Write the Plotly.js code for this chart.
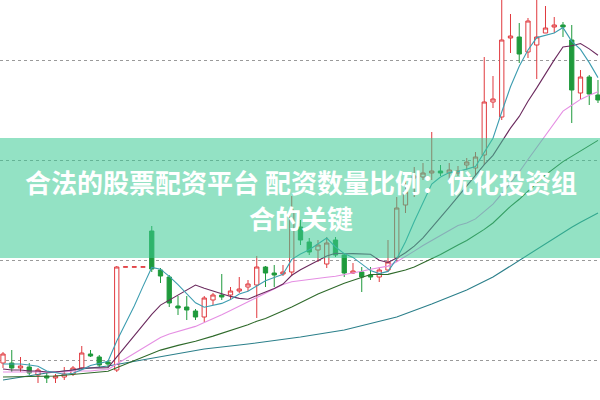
<!DOCTYPE html>
<html>
<head>
<meta charset="utf-8">
<script src="https://cdn.plot.ly/plotly-3.0.1.min.js"></script>
<style>html,body{margin:0;padding:0;background:#fff;}#chart{width:600px;height:400px;}</style>
</head>
<body>
<div id="chart"></div>
<script>
// Daily candles (price units)
const openP  = [3.7,3.7,3.2,3.3,2.5,2.4,2.2,2.3,2.6,3.2,4.6,4.3,3.8,3.0,13.28,13.28,13.28,16.9,13.0,12.3,9.4,9.3,8.9,8.3,10.0,10.5,10.5,10.9,11.3,11.5,13.3,12.7,12.6,12.8,17.3,15.8,15.0,13.6,16.0,14.5,12.7,12.8,12.5,12.3,13.0,14.2,19.5,22.2,22.3,22.7,22.9,22.7,22.7,23.5,23.2,24.5,29.8,28.3,36.2,36.3,34.8,35.5,36.7,37.3,37.5,36.0,30.7,32.3,30.5];
const highP  = [4.8,5.0,4.3,3.7,3.2,2.7,2.6,3.3,3.4,5.4,5.0,4.5,4.0,13.4,13.32,13.32,13.32,17.4,13.2,12.5,10.4,10.4,9.1,10.4,10.7,12.6,11.3,12.3,12.0,14.4,13.4,13.5,13.5,20.4,18.0,16.2,16.0,16.3,16.3,14.7,13.7,13.3,13.3,13.3,16.0,20.3,22.0,23.3,23.7,26.8,23.5,23.7,23.4,24.2,24.8,34.3,32.4,40.5,38.6,37.7,38.2,40.5,39.4,38.3,37.8,37.5,33.0,32.5,32.0];
const lowP   = [3.2,2.8,2.8,2.5,1.7,1.7,1.7,2.0,2.4,3.0,4.3,3.3,3.3,2.8,13.28,13.28,13.28,12.8,11.7,9.3,8.5,8.0,8.0,7.8,9.5,10.0,10.0,10.7,10.9,8.2,11.3,11.3,12.4,12.4,15.5,14.5,13.8,13.2,14.3,12.3,12.6,10.8,12.0,11.8,12.8,13.8,18.7,20.3,22.0,22.0,22.4,22.0,22.4,23.0,22.5,23.5,29.2,28.0,34.7,33.7,34.2,32.1,36.7,36.7,36.3,27.7,30.0,29.5,29.7];
const closeP = [4.6,3.2,3.4,2.7,3.0,2.2,2.4,2.6,3.2,4.7,4.4,3.5,3.6,13.3,13.32,13.32,13.32,13.1,12.4,9.7,9.2,9.0,8.3,10.2,10.5,10.3,10.9,11.1,11.6,13.3,12.7,12.5,12.8,19.0,16.0,14.8,15.5,15.7,14.5,12.7,12.9,12.3,12.3,13.0,13.8,19.2,20.8,22.4,22.7,22.9,22.7,23.0,22.9,23.8,24.3,29.8,30.1,36.0,36.4,34.6,37.9,36.3,37.2,37.5,37.3,31.0,32.3,30.6,30.0];

// Moving-average lines
const ma5  = [3.6,3.6,3.6,3.5,3.38,2.9,2.74,2.58,2.68,3.02,3.46,3.68,3.88,5.9,7.62,9.4,11.36,13.26,13.08,12.36,11.54,10.68,9.72,9.28,9.44,9.66,10.04,10.6,10.88,11.44,11.92,12.24,12.58,14.06,14.6,15.02,15.62,16.2,15.3,14.64,14.26,13.62,12.94,12.64,12.86,14.12,15.82,17.84,19.78,21.6,22.3,22.74,22.84,23.06,23.34,24.76,26.18,28.8,31.32,33.38,35.0,36.24,36.48,36.7,37.24,35.86,35.06,33.74,32.24];
const ma10 = [3.1,3.0,3.0,2.9,2.9,2.8,2.8,2.9,3.0,3.2,3.18,3.21,3.23,4.29,5.32,6.43,7.52,8.57,9.49,9.99,10.47,11.02,11.49,11.18,10.9,10.6,10.36,10.16,10.08,10.44,10.79,11.14,11.59,12.47,13.02,13.47,13.93,14.39,14.68,14.62,14.64,14.62,14.57,13.97,13.75,14.19,14.72,15.39,16.21,17.23,18.21,19.28,20.34,21.42,22.47,23.53,24.46,25.82,27.19,28.36,29.88,31.21,32.64,34.01,35.31,35.43,35.65,35.11,34.47];
const ma20 = [2.8,2.8,2.8,2.8,2.8,2.8,2.8,2.8,2.9,2.9,2.9,3.0,3.05,3.6,4.13,4.67,5.21,5.74,6.24,6.6,6.83,7.12,7.36,7.74,8.11,8.52,8.94,9.37,9.79,10.22,10.63,11.08,11.54,11.83,11.96,12.04,12.15,12.28,12.38,12.53,12.72,12.88,13.08,13.22,13.39,13.83,14.33,14.89,15.45,15.93,16.43,16.95,17.46,17.7,18.11,18.86,19.59,20.61,21.7,22.8,24.05,25.25,26.49,27.72,28.89,29.48,30.06,30.47,30.83];
const ma30Day = [0,6,12,13,14,15,16,17,18,20,22,24,26,28,29,30,33,36,39,42,44,46,47,49,50,52,53,55,56,58,59,61,62,64,65,67,68];
const ma30    = [2.3,2.4,2.87,3.23,3.59,3.95,4.31,4.66,4.99,5.46,5.87,6.39,6.93,7.52,7.88,8.15,9.31,10.6,11.68,12.55,12.56,13.0,13.31,14.1,14.55,15.5,15.95,17.06,17.7,19.36,20.07,21.7,22.52,23.84,24.38,25.44,25.96];
const ma60Day = [0,5,12,17,23,28,34,39,45,49,53,56,59,60,61,62,63,64,65,66,67,68];
const ma60    = [2.0,2.7,3.4,4.2,5.1,5.6,6.3,7.0,8.3,9.6,11.0,12.3,13.97,14.53,15.08,15.64,16.22,16.8,17.27,17.77,18.24,18.69];

const titleLine1 = '合法的股票配资平台 配资数量比例：优化投资组';
const titleLine2 = '合的关键';

const days = openP.map((_, i) => i);

const traces = [
  {
    type: 'candlestick', x: days, open: openP, high: highP, low: lowP, close: closeP,
    increasing: {line: {color: '#e0393e', width: 1}, fillcolor: '#ffffff'},
    decreasing: {line: {color: '#1f9a3c', width: 1}, fillcolor: '#1f9a3c'},
    whiskerwidth: 0, hoverinfo: 'skip'
  },
  {type: 'scatter', mode: 'lines', x: ma60Day, y: ma60, line: {color: '#2b7f8a', width: 1.1}},
  {type: 'scatter', mode: 'lines', x: ma30Day, y: ma30, line: {color: '#2f6a2b', width: 1.1}},
  {type: 'scatter', mode: 'lines', x: days, y: ma20, line: {color: '#e58fe3', width: 1.1}},
  {type: 'scatter', mode: 'lines', x: days, y: ma10, line: {color: '#6b2a5e', width: 1.1}},
  {type: 'scatter', mode: 'lines', x: days, y: ma5,  line: {color: '#3d9db0', width: 1.1}}
];

const layout = {
  width: 600, height: 400,
  margin: {l: 0, r: 0, t: 0, b: 0},
  paper_bgcolor: '#ffffff', plot_bgcolor: '#ffffff',
  showlegend: false,
  xaxis: {range: [-0.343, 68.23], showgrid: false, zeroline: false, showticklabels: false, ticks: '', showline: false, rangeslider: {visible: false}},
  yaxis: {range: [0, 40], tick0: 4, dtick: 10, showgrid: true, gridcolor: '#9a9a9a', griddash: 'dot', gridwidth: 1, zeroline: false, showticklabels: false, ticks: '', showline: false},
  shapes: [{type: 'rect', xref: 'paper', yref: 'paper', x0: 0, x1: 1, y0: 0.355, y1: 0.655, fillcolor: 'rgba(59,202,148,0.55)', line: {width: 0}, layer: 'above'}],
  annotations: [
    {xref: 'paper', yref: 'paper', x: 0.502, y: 0.546, xanchor: 'center', yanchor: 'middle', showarrow: false,
     text: '<b>' + titleLine1 + '</b>', font: {family: 'Noto Sans CJK SC', size: 26, color: '#ffffff'}},
    {xref: 'paper', yref: 'paper', x: 0.502, y: 0.456, xanchor: 'center', yanchor: 'middle', showarrow: false,
     text: '<b>' + titleLine2 + '</b>', font: {family: 'Noto Sans CJK SC', size: 26, color: '#ffffff'}}
  ]
};

Plotly.newPlot('chart', traces, layout, {staticPlot: true, displayModeBar: false});
</script>
</body>
</html>
